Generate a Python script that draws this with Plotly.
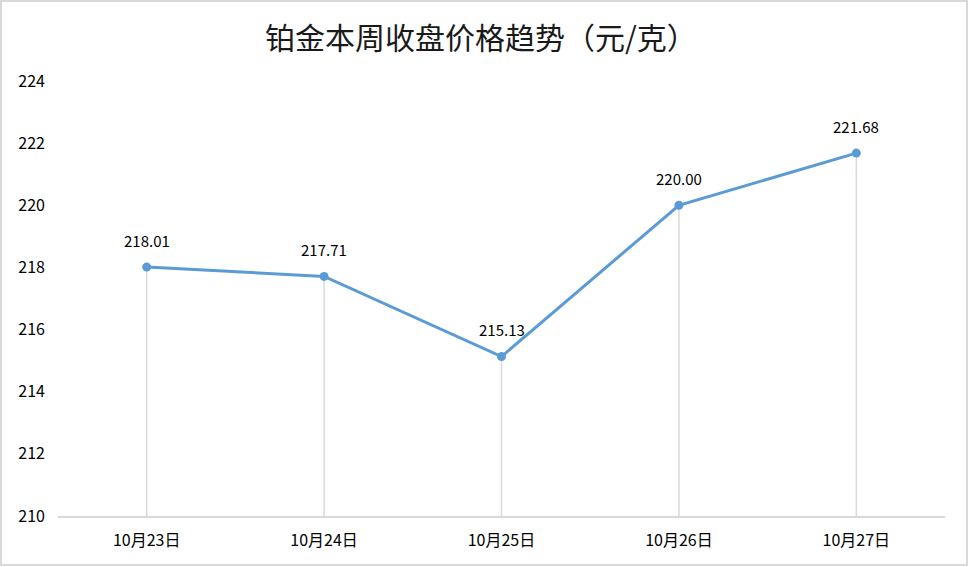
import plotly.graph_objects as go

dates = ["10月23日", "10月24日", "10月25日", "10月26日", "10月27日"]
prices = [218.01, 217.71, 215.13, 220.00, 221.68]
y_ticks = [210, 212, 214, 216, 218, 220, 222, 224]

line_color = "#5B9BD5"
grid_color = "#D9D9D9"
cjk = "Noto Sans CJK SC"

fig = go.Figure()

# drop lines
for d, p in zip(dates, prices):
    fig.add_trace(go.Scatter(x=[d, d], y=[y_ticks[0], p], mode="lines",
                             line=dict(color=grid_color, width=1.5),
                             hoverinfo="skip", showlegend=False))

fig.add_trace(go.Scatter(x=dates, y=prices, mode="lines+markers",
                         line=dict(color=line_color, width=3),
                         marker=dict(color=line_color, size=9),
                         showlegend=False))

for d, p in zip(dates, prices):
    fig.add_annotation(x=d, y=p, text=f"{p:.2f}", showarrow=False, yshift=27,
                       font=dict(family=cjk, size=15, color="#000000"))

fig.add_shape(type="rect", xref="paper", yref="paper",
              x0=-57/887, x1=1 + 22/887, y0=-49/435, y1=1 + 80/435,
              line=dict(color=grid_color, width=2), layer="below")

fig.update_layout(
    width=969, height=567,
    margin=dict(l=58, r=24, t=81, b=51),
    paper_bgcolor="white", plot_bgcolor="white",
    title=dict(text="铂金本周收盘价格趋势（元/克）", x=481/969, xref="container", xanchor="center",
               y=1 - 38/567, yanchor="middle",
               font=dict(family=cjk, size=30, color="#1a1a1a")),
    xaxis=dict(type="category", range=[-0.5, len(dates) - 0.5], showgrid=False,
               showline=True, linecolor=grid_color, linewidth=1.5,
               ticks="", tickfont=dict(family=cjk, size=16, color="#000000"),
               ticklabelstandoff=9),
    yaxis=dict(range=[210, 224], tickvals=y_ticks, showgrid=False, zeroline=False,
               showline=False, ticks="", tickfont=dict(family=cjk, size=16, color="#000000"),
               ticklabelstandoff=12),
)

fig.write_html("out.html", config={"displayModeBar": False},
               post_script="document.body.style.margin='0';document.body.style.overflow='hidden';")
